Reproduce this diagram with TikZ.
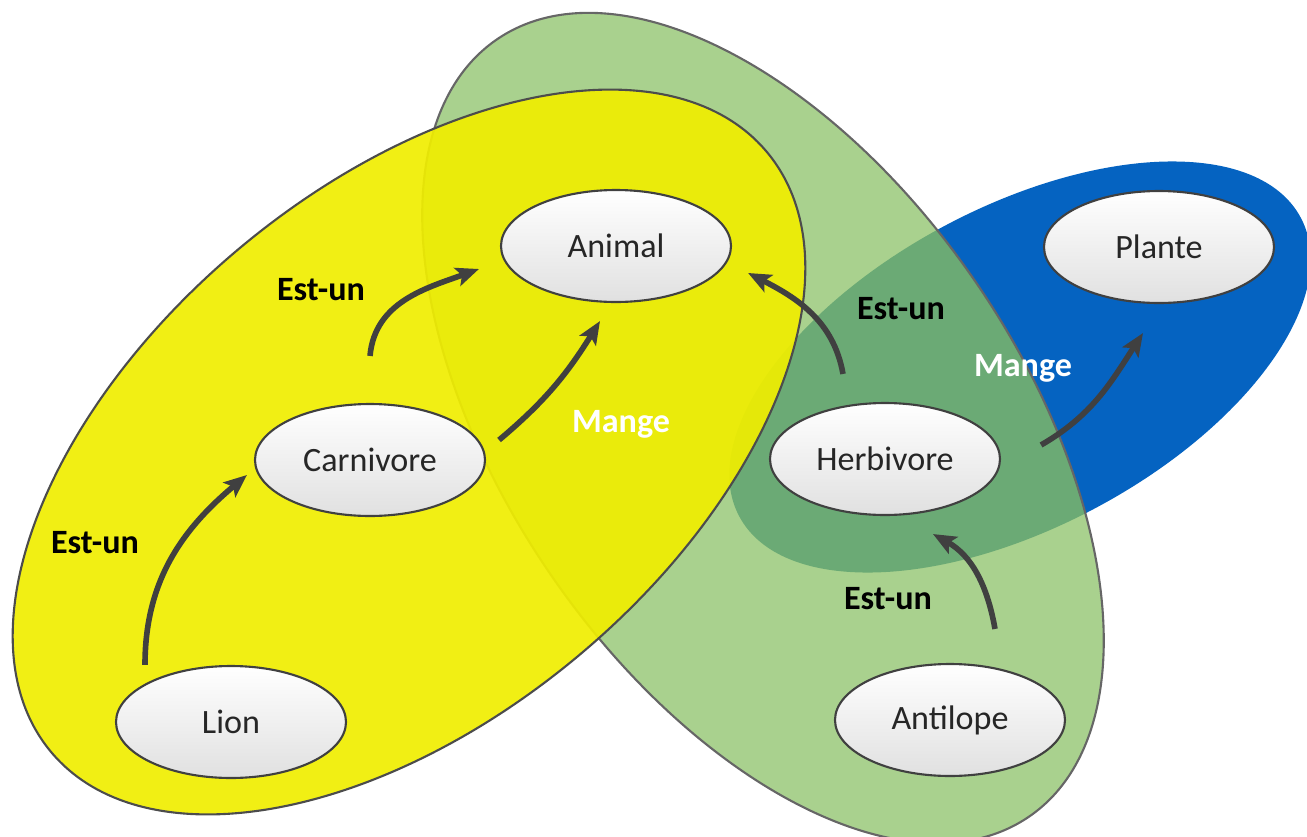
\documentclass[tikz,border=0pt]{standalone}
\usepackage{fontspec}
\setmainfont{Carlito}
\usetikzlibrary{shapes}
\usetikzlibrary{arrows.meta}
\usetikzlibrary{positioning}
\definecolor{jaune}{RGB}{240,238,0}
\definecolor{vertclair}{RGB}{169,209,142}
\definecolor{vertfonce}{RGB}{107,170,117}
\definecolor{bleu}{RGB}{5,99,193}
\definecolor{gristrait}{RGB}{64,64,64}
\tikzstyle{concept}=[ellipse,draw=black!75,line width=0.6pt,top color=white,bottom color=black!12,minimum width=2.3cm,minimum height=1.12cm,inner sep=0pt,font=\fontsize{9.7}{11.6}\selectfont,text=black!85]
\tikzstyle{lien}=[-{Stealth[length=2.3mm,width=1.9mm,inset=0.5mm]},line width=1.6pt,draw=gristrait]
\tikzstyle{estun}=[font=\fontsize{9.7}{11.6}\selectfont\bfseries]
\tikzstyle{mange}=[font=\fontsize{9.7}{11.6}\selectfont\bfseries,text=white]

\begin{document}
\begin{tikzpicture}
\useasboundingbox (0,0) rectangle (13.07,8.36);

% les ensembles
\fill[bleu,rotate around={28:(10.20,4.69)}] (10.20,4.69) ellipse (3.18 and 1.60);
\fill[vertclair,rotate around={-55.6:(7.63,4.08)}] (7.63,4.08) ellipse (4.71 and 2.58);
\begin{scope}
  \clip[rotate around={28:(10.20,4.69)}] (10.20,4.69) ellipse (3.18 and 1.60);
  \fill[vertfonce,rotate around={-55.6:(7.63,4.08)}] (7.63,4.08) ellipse (4.71 and 2.58);
\end{scope}
\draw[black!60,line width=0.6pt,rotate around={-55.6:(7.63,4.08)}] (7.63,4.08) ellipse (4.71 and 2.58);
\filldraw[fill=jaune,fill opacity=0.92,draw=black!70,line width=0.6pt,rotate around={40:(4.09,3.84)}] (4.09,3.84) ellipse (4.67 and 2.65);

    \foreach \pos/\name in {{(6.16,5.90)/Animal}, {(11.59,5.89)/Plante}, {(3.70,3.76)/Carnivore}, {(8.85,3.77)/Herbivore}, {(2.31,1.14)/Lion}, {(9.50,1.16)/Antilope}}
        \node[concept] (\name) at \pos {\name};

%les relations
\draw[lien] ([xshift=-8.6mm]Lion.north) to[out=90,in=220] ([shift={(-0.07,-0.15)}]Carnivore.west);
\draw[lien] ([yshift=4.7mm]Carnivore.north) to[out=85,in=200] ([shift={(-0.21,-0.23)}]Animal.west);
\draw[lien] ([shift={(0.13,0.2)}]Carnivore.east) to[out=40,in=238] ([shift={(-0.16,-0.18)}]Animal.south);
\draw[lien] ([shift={(-0.42,0.28)}]Herbivore.north) to[out=100,in=333] ([shift={(0.16,-0.27)}]Animal.east);
\draw[lien] ([shift={(0.40,0.14)}]Herbivore.east) to[out=30,in=237] ([shift={(-0.16,-0.29)}]Plante.south);
\draw[lien] ([shift={(0.45,0.34)}]Antilope.north) to[out=100,in=331] ([shift={(0.48,-0.18)}]Herbivore.south);

\node[estun] (estun1) at (3.21,5.46) {Est-un};
\node[estun] (estun2) at (0.95,2.93) {Est-un};
\node[estun] (estun3) at (9.01,5.27) {Est-un};
\node[estun] (estun4) at (8.88,2.37) {Est-un};
\node[mange] (mange1) at (6.21,4.12) {Mange};
\node[mange] (mange2) at (10.23,4.68) {Mange};

\end{tikzpicture}
\end{document}
